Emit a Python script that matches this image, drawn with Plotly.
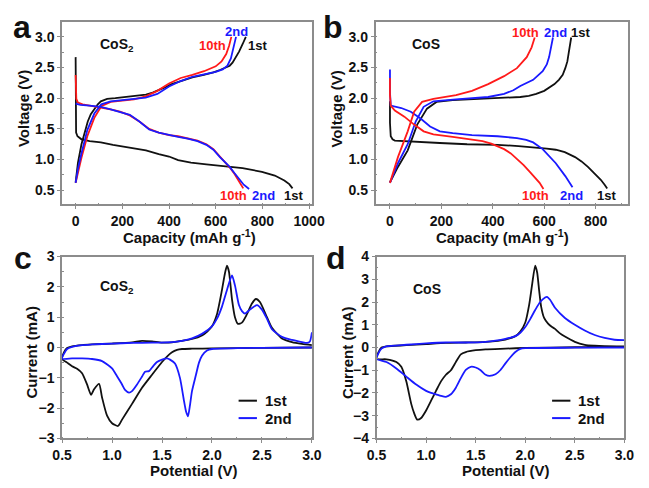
import plotly.graph_objects as go

W, H = 649, 488
FONT = "Liberation Sans, Arial, sans-serif"
BLACK = "#111111"
RED = "#ff1a1a"
BLUE = "#1a1aff"

# ---------------- Panel a : CoS2 charge/discharge ----------------
a_dis1_cap = [0, 0, 2, 8, 25, 60, 108, 160, 218, 260, 301, 356, 400, 439, 494, 560, 632, 715, 798, 853, 894, 915, 929]
a_dis1_v = [2.67, 1.60, 1.44, 1.38, 1.33, 1.30, 1.28, 1.24, 1.20, 1.18, 1.15, 1.09, 1.05, 0.99, 0.95, 0.92, 0.89, 0.86, 0.80, 0.74, 0.66, 0.60, 0.53]
a_dis2_cap = [0, 20, 60, 108, 150, 190, 232, 273, 315, 356, 400, 439, 480, 522, 560, 590, 618, 640, 660, 680, 701, 720, 743]
a_dis2_v = [1.91, 1.89, 1.88, 1.86, 1.82, 1.78, 1.73, 1.62, 1.49, 1.44, 1.40, 1.37, 1.34, 1.30, 1.24, 1.16, 1.04, 0.96, 0.88, 0.78, 0.67, 0.59, 0.52]
a_dis10_cap = [0, 0, 3, 10, 30, 60, 108, 150, 190, 232, 273, 315, 356, 400, 439, 480, 522, 560, 590, 618, 640, 660, 680, 700, 718]
a_dis10_v = [2.38, 2.10, 1.99, 1.93, 1.90, 1.88, 1.85, 1.82, 1.78, 1.72, 1.62, 1.50, 1.44, 1.40, 1.38, 1.35, 1.31, 1.25, 1.17, 1.05, 0.96, 0.87, 0.77, 0.65, 0.53]
a_ch1_cap = [0, 10, 25, 40, 52, 65, 80, 95, 108, 135, 170, 218, 260, 301, 330, 356, 385, 411, 440, 467, 500, 549, 590, 618, 640, 660, 672, 687, 700, 715, 729]
a_ch1_v = [0.63, 0.95, 1.25, 1.47, 1.62, 1.74, 1.83, 1.90, 1.95, 1.99, 2.00, 2.02, 2.04, 2.06, 2.09, 2.13, 2.18, 2.23, 2.27, 2.30, 2.34, 2.38, 2.42, 2.46, 2.49, 2.53, 2.58, 2.67, 2.76, 2.88, 3.00]
a_ch2_cap = [0, 10, 25, 50, 80, 110, 150, 200, 250, 300, 350, 400, 450, 500, 550, 600, 630, 650, 665, 675, 687]
a_ch2_v = [0.62, 0.85, 1.10, 1.48, 1.75, 1.90, 1.95, 1.97, 1.98, 2.01, 2.07, 2.19, 2.28, 2.35, 2.39, 2.43, 2.47, 2.53, 2.65, 2.80, 3.00]
a_ch10_cap = [0, 10, 25, 50, 80, 110, 150, 200, 250, 300, 350, 400, 450, 500, 550, 600, 625, 645, 657, 667]
a_ch10_v = [0.62, 0.80, 1.03, 1.38, 1.68, 1.87, 1.94, 1.96, 1.98, 2.03, 2.12, 2.24, 2.33, 2.38, 2.44, 2.52, 2.60, 2.72, 2.85, 3.00]

# ---------------- Panel b : CoS charge/discharge ----------------
b_dis1_cap = [0, 0, 3, 10, 19, 60, 120, 194, 300, 419, 500, 569, 610, 645, 680, 720, 745, 770, 795, 820, 835, 845]
b_dis1_v = [1.95, 1.60, 1.38, 1.33, 1.31, 1.30, 1.28, 1.27, 1.25, 1.24, 1.22, 1.20, 1.18, 1.16, 1.12, 1.04, 0.97, 0.88, 0.78, 0.67, 0.59, 0.53]
b_dis2_cap = [0, 0, 3, 20, 44, 81, 119, 156, 194, 244, 319, 419, 494, 530, 557, 594, 620, 645, 682, 710]
b_dis2_v = [2.47, 2.10, 1.88, 1.86, 1.84, 1.78, 1.67, 1.54, 1.46, 1.43, 1.40, 1.38, 1.35, 1.32, 1.28, 1.17, 1.06, 0.94, 0.73, 0.55]
b_dis10_cap = [0, 0, 3, 19, 56, 94, 131, 169, 244, 319, 360, 394, 420, 444, 470, 494, 520, 544, 565, 582, 597]
b_dis10_v = [2.33, 2.05, 1.88, 1.80, 1.70, 1.57, 1.46, 1.41, 1.37, 1.33, 1.30, 1.26, 1.22, 1.17, 1.10, 1.01, 0.91, 0.80, 0.70, 0.62, 0.52]
b_ch1_cap = [0, 31, 69, 106, 144, 181, 244, 300, 382, 450, 507, 540, 569, 600, 620, 640, 657, 672, 682, 690, 695, 700, 705]
b_ch1_v = [0.63, 0.88, 1.15, 1.57, 1.83, 1.94, 1.97, 1.98, 1.99, 2.00, 2.02, 2.04, 2.07, 2.12, 2.17, 2.23, 2.30, 2.38, 2.49, 2.60, 2.73, 2.86, 2.99]
b_ch2_cap = [0, 31, 69, 100, 131, 169, 257, 320, 382, 444, 480, 507, 557, 594, 610, 619, 627, 634]
b_ch2_v = [0.62, 0.94, 1.25, 1.62, 1.86, 1.95, 1.98, 2.00, 2.02, 2.07, 2.13, 2.20, 2.30, 2.44, 2.55, 2.67, 2.83, 2.99]
b_ch10_cap = [0, 31, 69, 94, 125, 169, 257, 319, 382, 444, 494, 532, 551, 563]
b_ch10_v = [0.62, 1.04, 1.46, 1.78, 1.94, 1.99, 2.05, 2.12, 2.23, 2.36, 2.49, 2.67, 2.83, 2.99]

# ---------------- Panel c : CoS2 CV ----------------
c1_pot = [3.0, 2.5, 2.0, 1.8, 1.7, 1.65, 1.6, 1.55, 1.5, 1.4, 1.3, 1.2, 1.1, 1.06, 1.0, 0.95, 0.9, 0.87, 0.82, 0.79, 0.75, 0.7, 0.65, 0.6, 0.55, 0.5,
          0.52, 0.55, 0.6, 0.7, 0.8, 1.0, 1.2, 1.3, 1.4, 1.5, 1.6, 1.7, 1.8, 1.9, 1.95, 2.0, 2.05, 2.1, 2.13, 2.15, 2.17, 2.2, 2.23, 2.26, 2.3, 2.35, 2.4, 2.44, 2.48, 2.55, 2.6, 2.7, 2.8, 2.9, 3.0]
c1_cur = [0.0, -0.01, -0.03, -0.04, -0.05, -0.08, -0.16, -0.3, -0.48, -0.9, -1.33, -1.86, -2.38, -2.59, -2.5, -2.25, -1.65, -1.2, -1.38, -1.56, -1.22, -0.85, -0.7, -0.62, -0.5, -0.38,
          -0.15, -0.02, 0.04, 0.08, 0.1, 0.13, 0.17, 0.22, 0.2, 0.16, 0.17, 0.22, 0.28, 0.4, 0.52, 0.7, 1.1, 1.9, 2.45, 2.7, 2.5, 1.6, 1.0, 0.78, 0.82, 1.1, 1.45, 1.6, 1.5, 1.0, 0.65, 0.3, 0.18, 0.12, 0.08]
c2_pot = [3.0, 2.5, 2.0, 1.95, 1.9, 1.87, 1.84, 1.8, 1.78, 1.76, 1.74, 1.72, 1.68, 1.63, 1.58, 1.55, 1.5, 1.45, 1.4, 1.37, 1.33, 1.3, 1.25, 1.2, 1.17, 1.13, 1.1, 1.05, 1.0, 0.9, 0.8, 0.7, 0.6, 0.5,
          0.52, 0.55, 0.6, 0.7, 0.8, 1.0, 1.2, 1.4, 1.6, 1.7, 1.8, 1.9, 2.0, 2.05, 2.1, 2.15, 2.2, 2.23, 2.27, 2.3, 2.33, 2.38, 2.45, 2.5, 2.55, 2.6, 2.7, 2.8, 2.9, 2.95, 2.98, 3.0]
c2_cur = [0.0, -0.01, -0.05, -0.1, -0.27, -0.5, -0.9, -1.44, -1.9, -2.27, -2.1, -1.76, -1.01, -0.53, -0.4, -0.36, -0.4, -0.48, -0.66, -0.78, -0.8, -0.96, -1.22, -1.44, -1.49, -1.4, -1.22, -0.95, -0.69, -0.45, -0.38, -0.36, -0.36, -0.37,
          -0.2, -0.05, 0.02, 0.08, 0.1, 0.13, 0.15, 0.16, 0.18, 0.22, 0.3, 0.45, 0.7, 0.95, 1.35, 1.9, 2.38, 2.05, 1.4, 1.2, 1.12, 1.25, 1.4, 1.25, 0.95, 0.6, 0.35, 0.25, 0.18, 0.15, 0.2, 0.5]

# ---------------- Panel d : CoS CV ----------------
d1_pot = [3.0, 2.5, 2.0, 1.8, 1.6, 1.5, 1.4, 1.35, 1.3, 1.25, 1.2, 1.15, 1.1, 1.05, 1.0, 0.95, 0.91, 0.88, 0.85, 0.8, 0.75, 0.7, 0.6, 0.5,
          0.52, 0.55, 0.6, 0.8, 1.0, 1.2, 1.4, 1.6, 1.8, 1.9, 1.95, 2.0, 2.04, 2.07, 2.1, 2.12, 2.14, 2.16, 2.19, 2.23, 2.27, 2.3, 2.35, 2.4, 2.5, 2.6, 2.7, 2.8, 3.0]
d1_cur = [0.03, 0.01, -0.02, -0.05, -0.08, -0.12, -0.2, -0.3, -0.64, -1.0, -1.2, -1.49, -1.91, -2.34, -2.77, -3.1, -3.17, -2.9, -2.48, -1.49, -0.85, -0.64, -0.52, -0.5,
          -0.2, 0.0, 0.05, 0.1, 0.15, 0.2, 0.22, 0.25, 0.35, 0.5, 0.7, 1.1, 1.9, 2.8, 3.6, 3.3, 2.5, 1.8, 1.3, 1.05, 0.9, 0.82, 0.62, 0.48, 0.25, 0.12, 0.08, 0.06, 0.05]
d2_pot = [3.0, 2.5, 2.0, 1.95, 1.9, 1.85, 1.8, 1.75, 1.7, 1.64, 1.6, 1.55, 1.5, 1.45, 1.4, 1.35, 1.3, 1.25, 1.2, 1.15, 1.1, 1.05, 1.0, 0.9, 0.8, 0.7, 0.6, 0.5,
          0.52, 0.55, 0.6, 0.8, 1.0, 1.2, 1.4, 1.6, 1.7, 1.8, 1.9, 1.95, 2.0, 2.05, 2.1, 2.15, 2.2, 2.22, 2.25, 2.3, 2.4, 2.5, 2.6, 2.7, 2.8, 2.9, 3.0]
d2_cur = [0.0, -0.01, -0.03, -0.06, -0.2, -0.43, -0.7, -0.99, -1.18, -1.25, -1.2, -1.0, -0.88, -0.85, -0.99, -1.35, -1.77, -2.06, -2.17, -2.13, -2.06, -2.0, -1.91, -1.63, -1.28, -0.92, -0.64, -0.5,
          -0.25, -0.05, 0.05, 0.12, 0.18, 0.22, 0.22, 0.25, 0.3, 0.38, 0.5, 0.65, 0.9, 1.25, 1.65, 2.0, 2.2, 2.23, 2.1, 1.75, 1.3, 1.0, 0.75, 0.55, 0.42, 0.34, 0.32]

# Tick labels
cap_ticks_a = [0, 200, 400, 600, 800, 1000]
cap_ticks_b = [0, 200, 400, 600, 800]
volt_ticks = [0.5, 1.0, 1.5, 2.0, 2.5, 3.0]
pot_ticks = [0.5, 1.0, 1.5, 2.0, 2.5, 3.0]
cur_ticks_c = [-3, -2, -1, 0, 1, 2, 3]
cur_ticks_d = [-4, -3, -2, -1, 0, 1, 2, 3, 4]

fig = go.Figure()

def add(x, y, color, xa, ya, shape="linear"):
    fig.add_trace(go.Scatter(x=x, y=y, mode="lines", xaxis=xa, yaxis=ya, showlegend=False,
                             line=dict(color=color, width=1.8, shape=shape, smoothing=0.6)))

add(a_dis1_cap, a_dis1_v, BLACK, "x", "y")
add(a_ch1_cap, a_ch1_v, BLACK, "x", "y")
add(a_dis10_cap, a_dis10_v, RED, "x", "y")
add(a_ch10_cap, a_ch10_v, RED, "x", "y")
add(a_dis2_cap, a_dis2_v, BLUE, "x", "y")
add(a_ch2_cap, a_ch2_v, BLUE, "x", "y")

add(b_dis1_cap, b_dis1_v, BLACK, "x2", "y2")
add(b_ch1_cap, b_ch1_v, BLACK, "x2", "y2")
add(b_dis2_cap, b_dis2_v, BLUE, "x2", "y2")
add(b_ch2_cap, b_ch2_v, BLUE, "x2", "y2")
add(b_dis10_cap, b_dis10_v, RED, "x2", "y2")
add(b_ch10_cap, b_ch10_v, RED, "x2", "y2")

add(c1_pot, c1_cur, BLACK, "x3", "y3", "spline")
add(c2_pot, c2_cur, BLUE, "x3", "y3", "spline")
add(d1_pot, d1_cur, BLACK, "x4", "y4", "spline")
add(d2_pot, d2_cur, BLUE, "x4", "y4", "spline")

FRAME = "#8c8c8c"

def axis(domain, rng, tickvals, fmt, size, anchor, minor_dtick):
    return dict(domain=domain, range=rng, tickvals=tickvals, tickformat=fmt, anchor=anchor,
                showline=True, mirror=True, linecolor=FRAME, linewidth=1.5,
                ticks="outside", ticklen=3, tickcolor=FRAME, tickwidth=1,
                minor=dict(dtick=minor_dtick, ticks="inside", ticklen=2, tickcolor=FRAME),
                showgrid=False, zeroline=False, fixedrange=True,
                tickfont=dict(family=FONT, size=size, color="#111", weight="bold"))

px = lambda v: v / W
py = lambda v: 1 - v / H

fig.update_layout(
    width=W, height=H, margin=dict(l=0, r=0, t=0, b=0),
    paper_bgcolor="white", plot_bgcolor="white",
    xaxis=axis([px(54), px(313)], [-58, 1012], cap_ticks_a, "d", 14, "y", 100),
    yaxis=axis([py(203), py(14)], [0.27, 3.25], volt_ticks, ".1f", 14, "x", 0.25),
    xaxis2=axis([px(379), px(641)], [-56, 927], cap_ticks_b, "d", 14, "y2", 100),
    yaxis2=axis([py(203), py(14)], [0.27, 3.25], volt_ticks, ".1f", 14, "x2", 0.25),
    xaxis3=axis([px(54), px(313)], [0.5, 3.0], pot_ticks, ".1f", 14, "y3", 0.25),
    yaxis3=axis([py(445), py(257)], [-3, 3], cur_ticks_c, "d", 14, "x3", 0.5),
    xaxis4=axis([px(380), px(637)], [0.5, 3.0], pot_ticks, ".1f", 14, "y4", 0.25),
    yaxis4=axis([py(445), py(257)], [-4, 4], cur_ticks_d, "d", 14, "x4", 0.5),
)

ann = []

def txt(text, x, y, xref, yref, size, color="#111", xanchor="center", yanchor="middle", angle=0):
    ann.append(dict(text=text, x=x, y=y, xref=xref, yref=yref, showarrow=False,
                    xanchor=xanchor, yanchor=yanchor, textangle=angle,
                    font=dict(family=FONT, size=size, color=color, weight="bold")))

# panel letters
txt("a", px(12), py(20), "paper", "paper", 32)
txt("b", px(335), py(20), "paper", "paper", 32)
txt("c", px(13), py(258), "paper", "paper", 32)
txt("d", px(338), py(258), "paper", "paper", 32)

# axis titles
txt("Voltage (V)", px(14), py(104), "paper", "paper", 15, angle=-90)
txt("Voltage (V)", px(339), py(104), "paper", "paper", 15, angle=-90)
txt("Capacity (mAh g<sup>-1</sup>)", px(186), py(236), "paper", "paper", 15)
txt("Capacity (mAh g<sup>-1</sup>)", px(511), py(236), "paper", "paper", 15)
txt("Current (mA)", px(22), py(356), "paper", "paper", 15, angle=-90)
txt("Current (mA)", px(350), py(356), "paper", "paper", 15, angle=-90)
txt("Potential (V)", px(191), py(478), "paper", "paper", 15)
txt("Potential (V)", px(514), py(478), "paper", "paper", 15)

# in-plot labels panel a
txt("CoS<sub>2</sub>", 95, 2.86, "x", "y", 14, xanchor="left")
txt("10th", 588, 2.86, "x", "y", 13, RED)
txt("2nd", 687, 3.09, "x", "y", 13, BLUE)
txt("1st", 778, 2.86, "x", "y", 13)
txt("10th", 675, 0.42, "x", "y", 13, RED)
txt("2nd", 803, 0.42, "x", "y", 13, BLUE)
txt("1st", 932, 0.42, "x", "y", 13)

# panel b
txt("CoS", 139, 2.89, "x2", "y2", 14)
txt("10th", 526, 3.07, "x2", "y2", 13, RED)
txt("2nd", 642, 3.07, "x2", "y2", 13, BLUE)
txt("1st", 740, 3.07, "x2", "y2", 13)
txt("10th", 567, 0.41, "x2", "y2", 13, RED)
txt("2nd", 706, 0.41, "x2", "y2", 13, BLUE)
txt("1st", 841, 0.41, "x2", "y2", 13)

# panel c/d labels
txt("CoS<sub>2</sub>", 0.864, 1.98, "x3", "y3", 14, xanchor="left")
txt("CoS", 1.01, 2.58, "x4", "y4", 14)

# legends (c and d)
shapes = []
for (x0, x1, tx) in [(237, 256, 262), (562, 581, 587)]:
    for (yy, col, lab) in [(406, BLACK, "1st"), (424, BLUE, "2nd")]:
        shapes.append(dict(type="line", xref="paper", yref="paper", x0=px(x0), x1=px(x1),
                           y0=py(yy), y1=py(yy), line=dict(color=col, width=2)))
        txt(lab, px(tx), py(yy), "paper", "paper", 15, xanchor="left")

fig.update_layout(annotations=ann, shapes=shapes)
fig.write_html("out.html")
